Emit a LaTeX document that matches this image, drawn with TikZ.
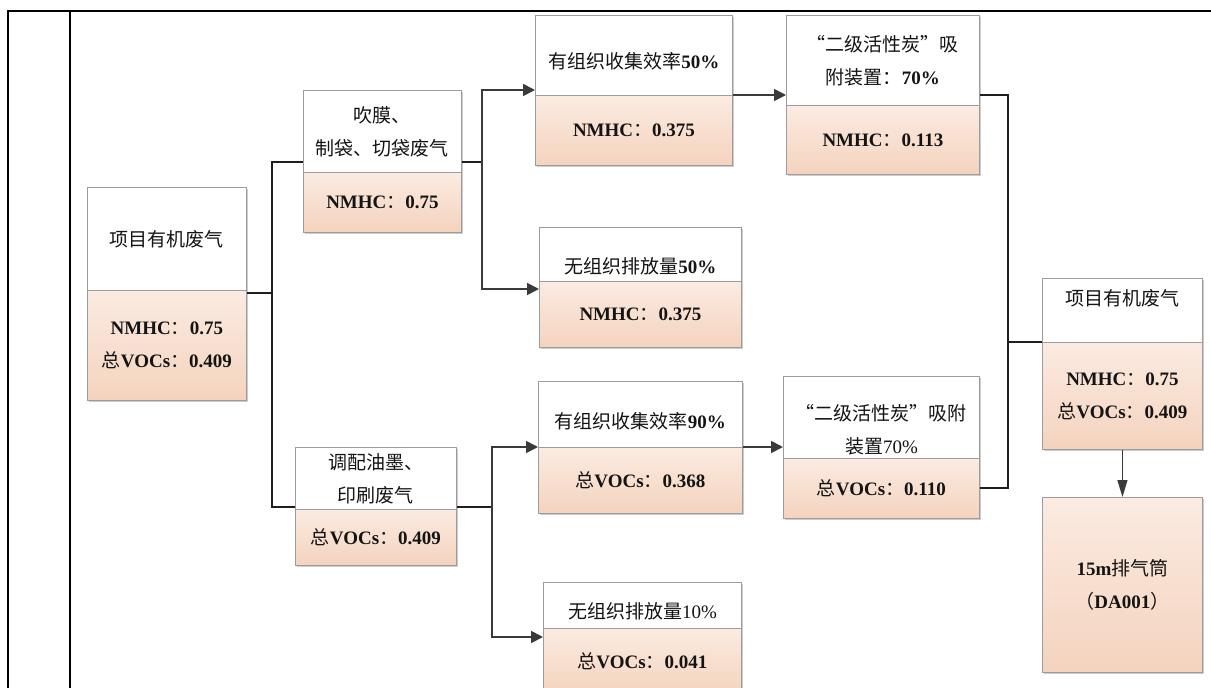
\documentclass[tikz,border=0pt]{standalone}
\usepackage{fontspec}
\setmainfont{Noto Sans CJK SC}
\newfontfamily\tnr{Liberation Serif}
\usetikzlibrary{arrows.meta,shadows}
\definecolor{peachT}{HTML}{FBEBE1}
\definecolor{peachB}{HTML}{F4D3BE}
\definecolor{boxline}{HTML}{9C9C9C}
\definecolor{lineC}{HTML}{1E1E1E}
\definecolor{arrC}{HTML}{3A3A3A}
\definecolor{txt}{HTML}{141414}
\newcommand\nb[1]{{\tnr\bfseries #1}}
\newcommand\nr[1]{{\tnr #1}}
\newcommand\dn[1]{\rule{0pt}{#1pt}}
\newcommand\upw[1]{\rule[-#1pt]{0pt}{#1pt}}
\newcommand\PBox[7]{\node[#2, anchor=north west, minimum width={(#5-#3)*1pt}, minimum height={(#6-#4)*1pt}] (#1) at (#3,#4) {#7};}
\tikzset{
  part/.style={draw=boxline, line width=0.9pt, inner sep=0pt, align=center, text=txt,
    font=\fontsize{19}{33}\selectfont,
    drop shadow={shadow xshift=2pt, shadow yshift=-2pt, opacity=0.2, fill=black}},
  upper/.style={part, fill=white},
  lower/.style={part, top color=peachT, bottom color=peachB},
  conn/.style={draw=lineC, line width=1.8pt},
  arr/.style={draw=arrC, line width=1.8pt, -{Triangle[length=12pt,width=12pt]}},
  darr/.style={draw=arrC, line width=1.2pt, -{Triangle[length=17pt,width=10pt]}},
  frameline/.style={draw=black, line width=2.6pt},
}
\begin{document}
\begin{tikzpicture}[x=1pt,y=-1pt]
\useasboundingbox (0,0) rectangle (1211,688);
\clip (0,0) rectangle (1211,688);
\fill[white] (0,0) rectangle (1211,688);
% frame
\draw[frameline] (8,700) -- (8,11) -- (1230,11);
\draw[draw=black, line width=1.8pt] (70,11) -- (70,700);
% boxes
\PBox{at}{upper}{87}{187}{246}{290}{项目有机废气}
\PBox{ab}{lower}{87}{290}{246}{400}{\nb{NMHC}：\nb{0.75}\\总\nb{VOCs}：\nb{0.409}}
\PBox{b1t}{upper}{303}{90}{461}{172}{吹膜、\\制袋、切袋废气}
\PBox{b1b}{lower}{303}{172}{461}{232}{\nb{NMHC}：\nb{0.75}}
\PBox{b2t}{upper}{295}{447}{456}{509}{调配油墨、\\印刷废气}
\PBox{b2b}{lower}{295}{509}{456}{565}{总\nb{VOCs}：\nb{0.409}}
\PBox{c1t}{upper}{535}{15}{732}{95}{\dn{27}有组织收集效率\nb{50\%}}
\PBox{c1b}{lower}{535}{95}{732}{165}{\nb{NMHC}：\nb{0.375}}
\PBox{c2t}{upper}{539}{227}{741}{281}{\dn{39}无组织排放量\nb{50\%}}
\PBox{c2b}{lower}{539}{281}{741}{347}{\nb{NMHC}：\nb{0.375}}
\PBox{c3t}{upper}{538}{381}{742}{447}{\dn{29}有组织收集效率\nb{90\%}}
\PBox{c3b}{lower}{538}{447}{742}{513}{总\nb{VOCs}：\nb{0.368}}
\PBox{c4t}{upper}{543}{582}{741}{628}{\dn{27}无组织排放量\nr{10\%}}
\PBox{c4b}{lower}{543}{628}{741}{694}{总\nb{VOCs}：\nb{0.041}}
\PBox{d1t}{upper}{786}{15}{979}{105}{“二级活性炭”吸\\附装置：\nb{70\%}}
\PBox{d1b}{lower}{786}{105}{979}{174}{\nb{NMHC}：\nb{0.113}}
\PBox{d2t}{upper}{783}{376}{979}{458}{\dn{41}“二级活性炭”吸附\\装置\nr{70\%}}
\PBox{d2b}{lower}{783}{458}{979}{518}{总\nb{VOCs}：\nb{0.110}}
\PBox{et}{upper}{1042}{278}{1202}{342}{\upw{25}项目有机废气}
\PBox{eb}{lower}{1042}{342}{1202}{449}{\nb{NMHC}：\nb{0.75}\\总\nb{VOCs}：\nb{0.409}}
\PBox{f}{lower}{1042}{497}{1202}{672}{\nb{15m}排气筒\\（\nb{DA001}）}
% junctions
\coordinate (jA) at (272,293);
\coordinate (jAu) at (272,162);
\coordinate (jAd) at (272,507);
\coordinate (jB1) at (482,162);
\coordinate (jB1u) at (482,90);
\coordinate (jB1d) at (482,289);
\coordinate (jB2) at (492,507);
\coordinate (jB2d) at (492,637);
\coordinate (jDu) at (1008,95);
\coordinate (jDd) at (1008,488);
\coordinate (jE) at (1008,342);
% connectors
\draw[conn] (jA -| ab.east) -- (jA);
\draw[conn] (jAu -| b1t.west) -- (jAu) -- (jAd) -- (jAd -| b2t.west);
\draw[conn] (jB1 -| b1t.east) -- (jB1);
\draw[arr] (jB1) -- (jB1u) -- (jB1u -| c1t.west);
\draw[arr] (jB1) -- (jB1d) -- (jB1d -| c2b.west);
\draw[conn] (jB2 -| b2t.east) -- (jB2);
\draw[arr] (jB2) -- (jB2 |- c3b.north west) -- (c3b.north west);
\draw[arr] (jB2) -- (jB2d) -- (jB2d -| c4b.west);
\draw[arr] (c1b.north east) -- (c1b.north east -| d1t.west);
\draw[arr] (c3b.north east) -- (c3b.north east -| d2t.west);
\draw[conn] (jDu -| d1t.east) -- (jDu) -- (jDd) -- (jDd -| d2b.east);
\draw[conn] (jE) -- (eb.north west);
\draw[darr] (eb.south) -- (f.north);
\end{tikzpicture}
\end{document}
